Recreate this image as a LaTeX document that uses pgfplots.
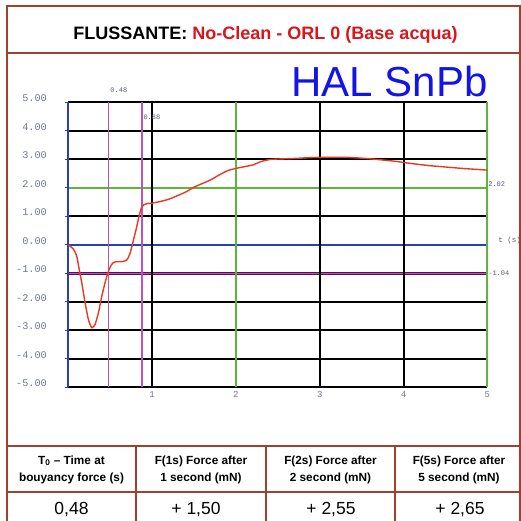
\documentclass[border=0pt]{standalone}
\usepackage{pgfplots}
\pgfplotsset{compat=1.18}
\usepackage{fontspec}
\setmainfont{Liberation Sans}
\newfontfamily\mono{Liberation Mono}
\definecolor{framec}{HTML}{A0402E}
\definecolor{titlered}{HTML}{D8161B}
\definecolor{halblue}{HTML}{1414E6}
\definecolor{gridgreen}{HTML}{5DB53A}
\definecolor{gridblue}{HTML}{2A3FB5}
\definecolor{gridpurple}{HTML}{5A1050}
\definecolor{magline}{HTML}{C050C0}
\definecolor{curvered}{HTML}{E83A22}
\definecolor{labgray}{HTML}{6E7890}
\begin{document}
\begin{tikzpicture}[x=1pt,y=1pt]
\path[use as bounding box] (0,0) rectangle (520,521);
\fill[white] (0,0) rectangle (520,521);
% frame and table lines
\draw[framec, line width=2pt] (6.7,-20) -- (6.7,515.3) -- (519.5,515.3) -- (519.5,-20);
\draw[framec, line width=1.8pt] (6.7,467.7) -- (519,467.7);
\draw[framec, line width=1.8pt] (6.7,75) -- (519,75);
\draw[framec, line width=1.8pt] (6.7,29.3) -- (519,29.3);
\draw[framec, line width=1.8pt] (136,75) -- (136,-20);
\draw[framec, line width=1.8pt] (265.7,75) -- (265.7,-20);
\draw[framec, line width=1.8pt] (395,75) -- (395,-20);
% title
\node at (265.5,486.5) {\fontsize{18}{21}\selectfont\bfseries FLUSSANTE: \textcolor{titlered}{No-Clean - ORL 0 (Base acqua)}};
\node[anchor=base, text=halblue, inner sep=0pt] at (389.5,424) {\fontsize{42}{46}\selectfont HAL SnPb};
% table
\node[align=center, font=\fontsize{11.8}{17}\selectfont\bfseries] at (71.5,51.5) {T\textsubscript{0} -- Time at\\bouyancy force (s)};
\node[align=center, font=\fontsize{11.8}{17}\selectfont\bfseries] at (201,51.5) {F(1s) Force after\\1 second (mN)};
\node[align=center, font=\fontsize{11.8}{17}\selectfont\bfseries] at (330.5,51.5) {F(2s) Force after\\2 second (mN)};
\node[align=center, font=\fontsize{11.8}{17}\selectfont\bfseries] at (459,51.5) {F(5s) Force after\\5 second (mN)};
\node[font=\fontsize{17.5}{21}\selectfont] at (71.5,11) {0,48};
\node[font=\fontsize{17.5}{21}\selectfont] at (196,11) {+ 1,50};
\node[font=\fontsize{17.5}{21}\selectfont] at (331,11) {+ 2,55};
\node[font=\fontsize{17.5}{21}\selectfont] at (460,11) {+ 2,65};
\begin{axis}[
  at={(68.3pt,133.7pt)}, anchor=south west,
  scale only axis, width=419pt, height=285pt,
  xmin=0, xmax=5, ymin=-5, ymax=5,
  clip=false,
  axis line style={draw=none}, tick style={draw=none},
  xtick={1,2,3,4,5}, ytick={-5,-4,...,5},
  /pgf/number format/assume math mode=true,
  yticklabel={\pgfmathprintnumber[fixed,fixed zerofill,precision=2]{\tick}},
  yticklabel style={font=\mono\fontsize{10.2}{12}\selectfont, text=labgray, anchor=east, xshift=-18pt, yshift=4pt},
  xticklabel style={font=\mono\fontsize{9}{10}\selectfont, text=labgray, yshift=-1pt},
]
% horizontal grid lines
\draw[black, line width=2pt] (axis cs:0,5) -- (axis cs:5,5);
\draw[black, line width=2pt] (axis cs:0,4) -- (axis cs:5,4);
\draw[black, line width=2pt] (axis cs:0,3) -- (axis cs:5,3);
\draw[black, line width=2pt] (axis cs:0,1) -- (axis cs:5,1);
\draw[black, line width=2pt] (axis cs:0,-2) -- (axis cs:5,-2);
\draw[black, line width=2pt] (axis cs:0,-3) -- (axis cs:5,-3);
\draw[black, line width=2pt] (axis cs:0,-4) -- (axis cs:5,-4);
\draw[black, line width=2pt] (axis cs:0,-5) -- (axis cs:5,-5);
\draw[gridgreen, line width=2pt] (axis cs:0,2) -- (axis cs:5,2);
\draw[gridblue, line width=1.7pt] (axis cs:0,0) -- (axis cs:5,0);
\draw[gridpurple, line width=2.8pt] (axis cs:0,-1) -- (axis cs:5,-1);
\draw[magline, line width=0.8pt] (axis cs:0,-1) -- (axis cs:5,-1);
% vertical grid lines
\draw[black, line width=2pt] (axis cs:1,-5) -- (axis cs:1,5);
\draw[black, line width=2pt] (axis cs:3,-5) -- (axis cs:3,5);
\draw[black, line width=2pt] (axis cs:4,-5) -- (axis cs:4,5);
\draw[gridgreen, line width=1.9pt] (axis cs:2,-5) -- (axis cs:2,5);
\draw[gridgreen, line width=1.9pt] (axis cs:5,-5) -- (axis cs:5,5);
\draw[gridblue, line width=1.8pt] (axis cs:0,-5) -- (axis cs:0,5);
\draw[magline, line width=1.2pt] (axis cs:0.48,-5) -- (axis cs:0.48,5);
\draw[magline, line width=1.2pt] (axis cs:0.88,-5) -- (axis cs:0.88,5);
% small blue ticks at left
\draw[gridblue, line width=1.4pt] (axis cs:-0.04,5) -- (axis cs:0,5) (axis cs:-0.04,4) -- (axis cs:0,4) (axis cs:-0.04,3) -- (axis cs:0,3) (axis cs:-0.04,2) -- (axis cs:0,2) (axis cs:-0.04,1) -- (axis cs:0,1) (axis cs:-0.04,0) -- (axis cs:0,0) (axis cs:-0.04,-1) -- (axis cs:0,-1) (axis cs:-0.04,-2) -- (axis cs:0,-2) (axis cs:-0.04,-3) -- (axis cs:0,-3) (axis cs:-0.04,-4) -- (axis cs:0,-4) (axis cs:-0.04,-5) -- (axis cs:0,-5);
% annotations
\node[anchor=west, inner sep=0pt, font=\mono\fontsize{7}{8}\selectfont, text=labgray!80!black] at (axis cs:0.5,5.43) {0.48};
\node[anchor=west, inner sep=0pt, font=\mono\fontsize{7}{8}\selectfont, text=labgray!80!black] at (axis cs:0.895,4.49) {0.88};
\node[anchor=west, inner sep=0pt, font=\mono\fontsize{7}{8}\selectfont, text=labgray!80!black] at (axis cs:5.01,2.13) {2.02};
\node[anchor=west, inner sep=0pt, font=\mono\fontsize{7}{8}\selectfont, text=labgray!80!black] at (axis cs:5.01,-1.0) {-1.04};
\node[anchor=west, inner sep=0pt, font=\mono\fontsize{7.5}{8}\selectfont, text=labgray!80!black] at (axis cs:5.13,0.14) {t (s)};
% curve
\addplot[curvered, line width=1.4pt, smooth, tension=0.4] coordinates {
(0,0) (0.06,-0.15) (0.10,-0.39) (0.13,-0.86) (0.16,-1.32) (0.20,-2.03)
(0.24,-2.62) (0.28,-2.91) (0.32,-2.79) (0.36,-2.38) (0.40,-1.80) (0.44,-1.32)
(0.48,-0.92) (0.52,-0.68) (0.56,-0.60) (0.64,-0.59) (0.70,-0.53) (0.74,-0.27)
(0.78,0.2) (0.81,0.55) (0.84,0.95) (0.87,1.28) (0.90,1.40) (0.95,1.45)
(1.0,1.46) (1.1,1.52) (1.2,1.60) (1.3,1.72) (1.4,1.85) (1.5,2.02)
(1.6,2.15) (1.7,2.28) (1.8,2.45) (1.9,2.60) (2.0,2.68) (2.1,2.74)
(2.2,2.80) (2.3,2.92) (2.4,2.99) (2.5,3.01) (2.7,3.03) (2.9,3.06)
(3.1,3.07) (3.3,3.07) (3.5,3.04) (3.7,2.99) (3.9,2.93) (4.1,2.85)
(4.3,2.78) (4.5,2.73) (4.7,2.68) (4.9,2.64) (5.0,2.62)
};
\end{axis}
\end{tikzpicture}
\end{document}
